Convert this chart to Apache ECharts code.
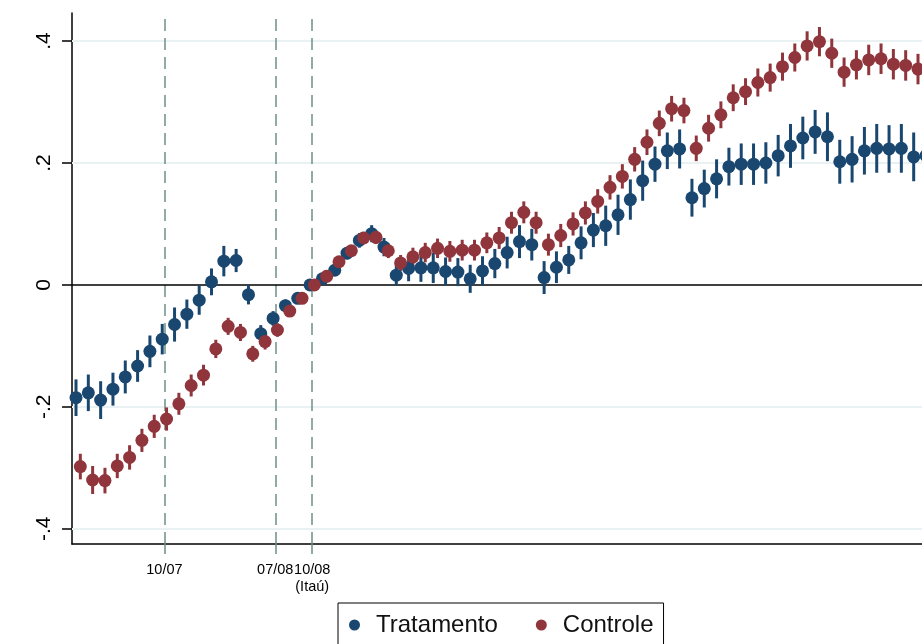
<!DOCTYPE html>
<html>
<head>
<meta charset="utf-8">
<script src="https://cdn.jsdelivr.net/npm/echarts@6/dist/echarts.min.js"></script>
<style>
  html, body { margin: 0; padding: 0; background: #fff; }
  #chart { width: 922px; height: 644px; }
</style>
</head>
<body>
<div id="chart"></div>
<script>
// Event-study estimates by period (index 0 = first period), with half-width of the 95% interval
const tratamento = [
  -0.185, -0.177, -0.189, -0.171, -0.151, -0.133, -0.109, -0.089, -0.065, -0.048,
  -0.025, 0.005, 0.039, 0.040, -0.016, -0.080, -0.055, -0.034, -0.022, 0.000,
  0.010, 0.024, 0.052, 0.073, 0.084, 0.062, 0.016, 0.027, 0.028, 0.028,
  0.022, 0.021, 0.010, 0.023, 0.035, 0.053, 0.071, 0.066, 0.012, 0.029,
  0.041, 0.069, 0.090, 0.097, 0.115, 0.140, 0.171, 0.198, 0.220, 0.223,
  0.143, 0.158, 0.174, 0.194, 0.198, 0.198, 0.200, 0.212, 0.228, 0.241,
  0.251, 0.243, 0.202, 0.206, 0.220, 0.224, 0.223, 0.224, 0.210, 0.212
];
const tratamentoErr = [
  0.030, 0.030, 0.031, 0.027, 0.027, 0.026, 0.026, 0.025, 0.028, 0.024,
  0.024, 0.022, 0.025, 0.019, 0.016, 0.014, 0.012, 0.010, 0.007, 0.000,
  0.005, 0.008, 0.010, 0.012, 0.014, 0.015, 0.017, 0.021, 0.023, 0.025,
  0.023, 0.023, 0.023, 0.024, 0.024, 0.026, 0.027, 0.026, 0.027, 0.026,
  0.023, 0.027, 0.028, 0.033, 0.033, 0.033, 0.033, 0.029, 0.030, 0.032,
  0.031, 0.031, 0.032, 0.031, 0.034, 0.034, 0.034, 0.034, 0.036, 0.035,
  0.036, 0.040, 0.036, 0.038, 0.039, 0.040, 0.039, 0.040, 0.040, 0.040
];
const controle = [
  -0.298, -0.320, -0.321, -0.297, -0.283, -0.255, -0.232, -0.220, -0.195, -0.165,
  -0.148, -0.105, -0.068, -0.078, -0.113, -0.093, -0.074, -0.043, -0.022, 0.000,
  0.014, 0.038, 0.056, 0.077, 0.078, 0.056, 0.036, 0.046, 0.053, 0.060,
  0.055, 0.057, 0.057, 0.069, 0.077, 0.102, 0.119, 0.102, 0.066, 0.081,
  0.100, 0.118, 0.137, 0.160, 0.178, 0.206, 0.234, 0.265, 0.289, 0.286,
  0.224, 0.257, 0.279, 0.307, 0.317, 0.332, 0.340, 0.358, 0.373, 0.392,
  0.399, 0.380, 0.349, 0.361, 0.369, 0.371, 0.362, 0.360, 0.354
];
const controleErr = [
  0.021, 0.023, 0.021, 0.020, 0.020, 0.019, 0.019, 0.019, 0.018, 0.018,
  0.017, 0.015, 0.014, 0.014, 0.013, 0.013, 0.011, 0.009, 0.006, 0.000,
  0.005, 0.007, 0.008, 0.010, 0.011, 0.012, 0.013, 0.015, 0.016, 0.016,
  0.017, 0.017, 0.017, 0.017, 0.018, 0.018, 0.018, 0.018, 0.018, 0.019,
  0.019, 0.019, 0.020, 0.020, 0.020, 0.020, 0.021, 0.021, 0.021, 0.021,
  0.021, 0.022, 0.022, 0.022, 0.022, 0.023, 0.023, 0.023, 0.023, 0.024,
  0.024, 0.024, 0.024, 0.024, 0.025, 0.025, 0.025, 0.025, 0.025
];

// Event dates marked on the x axis
const eventPositions = [7, 16, 19];
const eventLabels = ['10/07', '07/08', '10/08\n(Itaú)'];

// y axis tick values
const yTicks = [-0.4, -0.2, 0, 0.2, 0.4];

const BLUE = '#1a476f';
const RED = '#90353b';
const DASH = '#6f8f86';
const FONT = '"Liberation Sans", Arial, sans-serif';
const SHIFT = 0.175; // side-by-side offset of the two groups within a period

const pts = (vals, dx) => vals.map((v, i) => [i + dx, v]);
const bars = (vals, errs, dx) => vals.map((v, i) => [i + dx, v - errs[i], v + errs[i]]);

function spikeRenderer(color) {
  return function (params, api) {
    const a = api.coord([api.value(0), api.value(1)]);
    const b = api.coord([api.value(0), api.value(2)]);
    return {
      type: 'line',
      shape: { x1: a[0], y1: a[1], x2: b[0], y2: b[1] },
      style: { stroke: color, lineWidth: 3, lineCap: 'butt' }
    };
  };
}

function fmtY(v) {
  const r = Math.round(v * 10) / 10;
  if (r === 0) return '0';
  return (r < 0 ? '-' : '') + String(Math.abs(r)).replace(/^0/, '');
}

const chart = echarts.init(document.getElementById('chart'), null, { renderer: 'canvas' });

chart.setOption({
  animation: false,
  backgroundColor: '#fff',
  textStyle: { fontFamily: FONT },
  grid: { left: 72, right: 0, top: 13, bottom: 100, containLabel: false },
  legend: {
    data: ['Tratamento', 'Controle'],
    left: 338,
    top: 603,
    icon: 'circle',
    itemWidth: 11,
    itemHeight: 11,
    itemGap: 38,
    padding: [10, 10, 14, 11],
    backgroundColor: '#fff',
    borderColor: '#000',
    borderWidth: 1,
    borderRadius: 0,
    textStyle: { fontSize: 24, color: '#111', fontFamily: FONT, padding: [0, 0, 0, 11] }
  },
  xAxis: {
    type: 'value',
    min: -0.5,
    max: 68.5,
    axisLine: { show: true, onZero: false, lineStyle: { color: '#000', width: 1.5 } },
    axisTick: { show: true, customValues: eventPositions, length: 10, lineStyle: { color: DASH, width: 1.5 } },
    axisLabel: {
      customValues: eventPositions,
      formatter: v => eventLabels[eventPositions.indexOf(Math.round(v))] || '',
      fontSize: 14.5,
      lineHeight: 17,
      color: '#000',
      margin: 17,
      fontFamily: FONT
    },
    splitLine: { show: false }
  },
  yAxis: {
    type: 'value',
    min: -0.425,
    max: 0.446,
    axisLine: { show: true, onZero: false, lineStyle: { color: '#000', width: 1.5 } },
    axisTick: { show: true, customValues: yTicks, length: 10, lineStyle: { color: '#000', width: 1.5 } },
    axisLabel: {
      customValues: yTicks,
      formatter: fmtY,
      rotate: 90,
      fontSize: 21,
      color: '#000',
      margin: 17,
      fontFamily: FONT
    },
    splitLine: { show: false }
  },
  series: [
    {
      name: 'refLines',
      type: 'line',
      data: [],
      z: 1,
      silent: true,
      markLine: {
        silent: true,
        z: 1,
        symbol: ['none', 'none'],
        label: { show: false },
        animation: false,
        data: [
          ...yTicks.filter(v => v !== 0).map(v => ({ yAxis: v, lineStyle: { color: '#e9f1f3', width: 2, type: 'solid' } })),
          ...eventPositions.map(v => ({ xAxis: v, lineStyle: { color: DASH, width: 1.5, type: [12, 7] } })),
          { yAxis: 0, lineStyle: { color: '#000', width: 1.5, type: 'solid' } }
        ]
      }
    },
    {
      name: 'Tratamento IC',
      type: 'custom',
      z: 2,
      clip: false,
      data: bars(tratamento, tratamentoErr, -SHIFT),
      encode: { x: 0, y: [1, 2] },
      renderItem: spikeRenderer(BLUE)
    },
    {
      name: 'Controle IC',
      type: 'custom',
      z: 2,
      clip: false,
      data: bars(controle, controleErr, SHIFT),
      encode: { x: 0, y: [1, 2] },
      renderItem: spikeRenderer(RED)
    },
    {
      name: 'Tratamento',
      type: 'scatter',
      z: 3,
      clip: false,
      symbol: 'circle',
      symbolSize: 13,
      itemStyle: { color: BLUE, opacity: 1 },
      data: pts(tratamento, -SHIFT)
    },
    {
      name: 'Controle',
      type: 'scatter',
      z: 4,
      clip: false,
      symbol: 'circle',
      symbolSize: 13,
      itemStyle: { color: RED, opacity: 1 },
      data: pts(controle, SHIFT)
    }
  ]
});
</script>
</body>
</html>
